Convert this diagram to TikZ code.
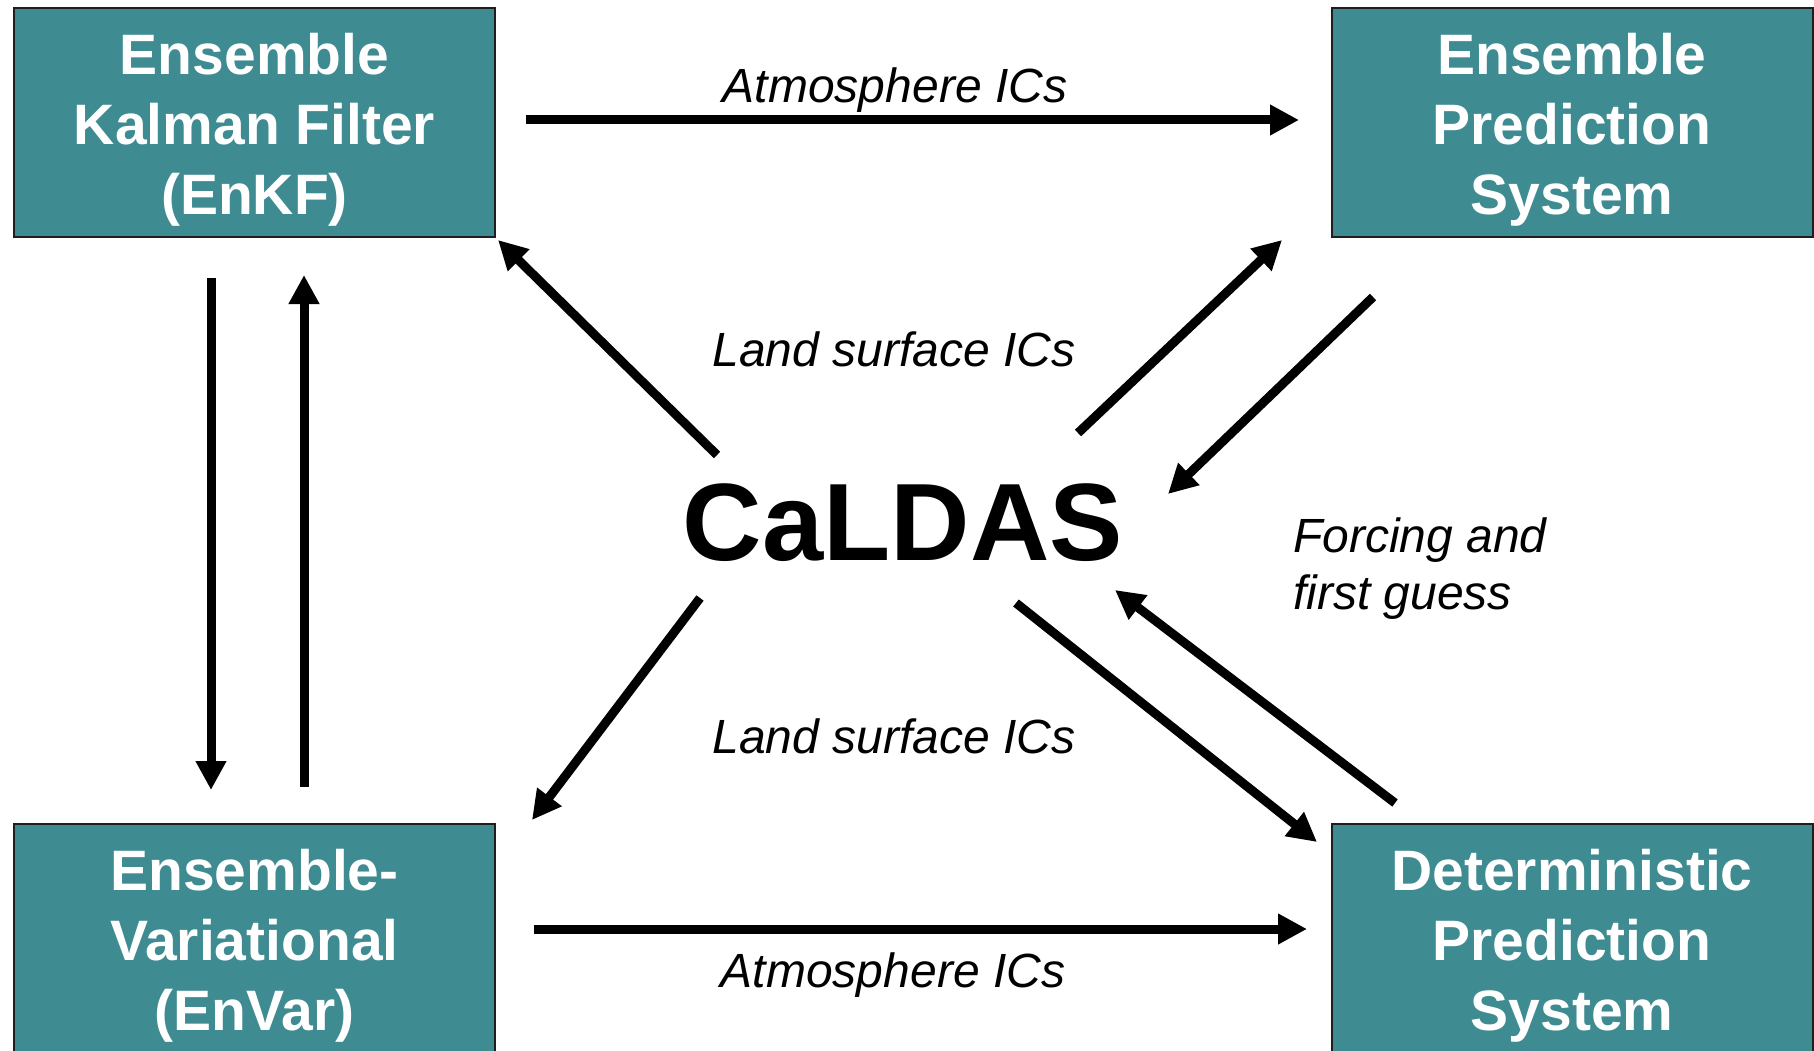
\documentclass[tikz,border=0pt]{standalone}
\usepackage{fontspec}
\setmainfont{Liberation Sans}
\usetikzlibrary{arrows.meta}
\definecolor{tealbox}{RGB}{62,139,145}
\definecolor{boxline}{RGB}{30,30,30}
\begin{document}
\begin{tikzpicture}[x=1pt,y=-1pt,
  box/.style={draw=boxline,line width=2pt,fill=tealbox,minimum width=481pt,minimum height=229pt,inner sep=0pt,outer sep=0pt},
  boxtext/.style={text=white,font=\fontsize{57}{70}\selectfont\bfseries,align=center,inner sep=0pt},
  lbl/.style={font=\fontsize{48}{57}\selectfont\itshape,inner sep=0pt},
  arr/.style={line width=9pt,-{Triangle[length=29pt,width=29pt]}}]
\clip (0,0) rectangle (1814,1051);
\fill[white] (0,0) rectangle (1814,1051);

% boxes
\node[box] (enkf) at (254.5,122.5) {};
\node[box] (eps) at (1572,122.5) {};
\node[box] (envar) at (254.5,938.5) {};
\node[box] (dps) at (1572,938.5) {};
\node[boxtext] (enkft) at ([yshift=-7pt]enkf.center) {Ensemble\\Kalman Filter\\(EnKF)};
\node[boxtext] (epst) at ([yshift=-7pt]eps.center) {Ensemble\\Prediction\\System};
\node[boxtext] (envart) at ([yshift=-7pt]envar.center) {Ensemble-\\Variational\\(EnVar)};
\node[boxtext] (dpst) at ([yshift=-7pt]dps.center) {Deterministic\\Prediction\\System};

% centre
\node[font=\fontsize{110}{130}\selectfont\bfseries,anchor=base,inner sep=0pt] (cal) at (903,560) {CaLDAS};

% labels
\node[lbl,anchor=base] (atm1) at (895,103) {Atmosphere ICs};
\node[lbl,anchor=base] (land1) at (894,366) {Land surface ICs};
\node[lbl,anchor=base] (land2) at (894,753) {Land surface ICs};
\node[lbl,anchor=base] (atm2) at (893,987) {Atmosphere ICs};
\node[lbl,anchor=base west,align=left] (forc) at (1293,609) {Forcing and\\first guess};

% connector end points
\coordinate (a1s) at (526,120);  \coordinate (a1e) at (1299,120);
\coordinate (a2s) at (534,929);  \coordinate (a2e) at (1307,929);
\coordinate (dns) at (211,278);  \coordinate (dne) at (211,790);
\coordinate (ups) at (304,787);  \coordinate (upe) at (304,275);
\coordinate (c1s) at (717,455);  \coordinate (c1e) at (498,240);
\coordinate (c2s) at (1078,433); \coordinate (c2e) at (1282,240);
\coordinate (c3s) at (1373,297); \coordinate (c3e) at (1168,494);
\coordinate (c4s) at (700,598);  \coordinate (c4e) at (532,820);
\coordinate (c5s) at (1016,603); \coordinate (c5e) at (1317,842);
\coordinate (c6s) at (1395,803); \coordinate (c6e) at (1115,590);

\draw[arr] (a1s) -- (a1e);
\draw[arr] (a2s) -- (a2e);
\draw[arr] (dns) -- (dne);
\draw[arr] (ups) -- (upe);
\draw[arr] (c1s) -- (c1e);
\draw[arr] (c2s) -- (c2e);
\draw[arr] (c3s) -- (c3e);
\draw[arr] (c4s) -- (c4e);
\draw[arr] (c5s) -- (c5e);
\draw[arr] (c6s) -- (c6e);
\end{tikzpicture}
\end{document}
